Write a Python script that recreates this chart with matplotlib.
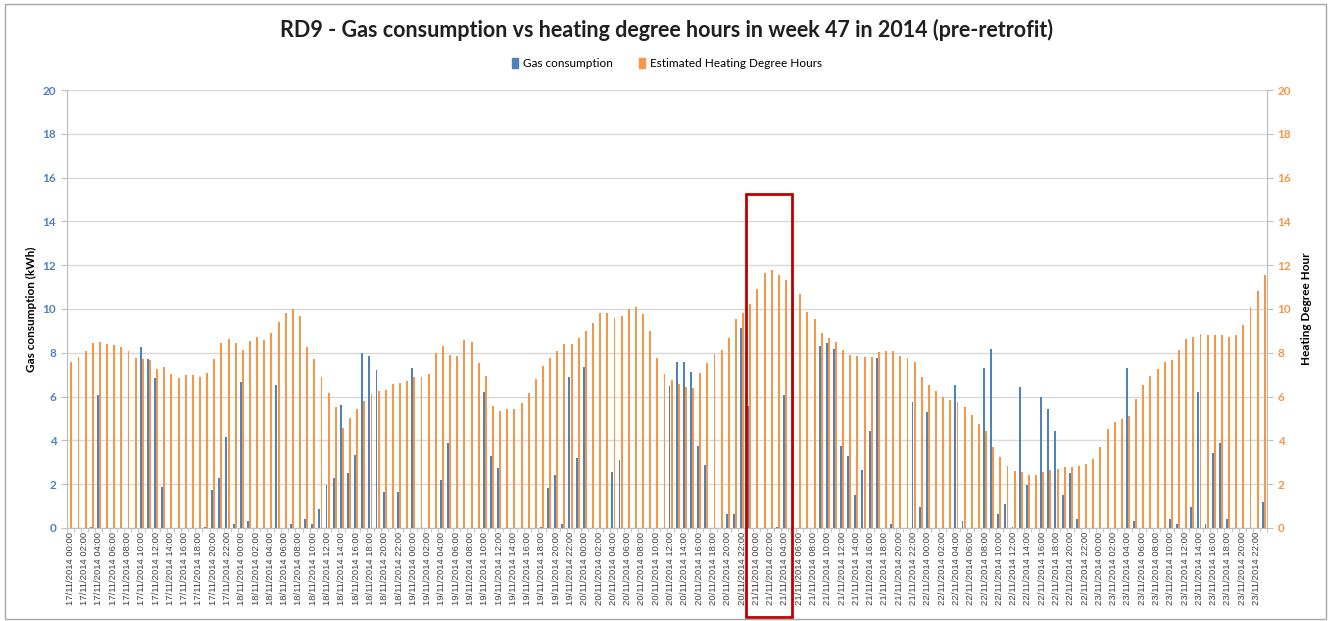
import numpy as np
import pandas as pd
import matplotlib
matplotlib.use("Agg")
import matplotlib.pyplot as plt
from matplotlib.patches import Rectangle, Patch

plt.rcParams['font.family'] = ['Lato', 'DejaVu Sans']

# hourly values, one row per day (17/11 .. 23/11/2014)
gas_kwh = [
    0, 0, 0, 0.06, 6.06, 0, 0, 0, 0, 0, 8.27, 7.71, 6.84, 1.85, 0, 0, 0, 0, 0, 0.06, 1.74, 2.29, 4.17, 0.18,
    6.64, 0.31, 0, 0, 0, 6.52, 0, 0.18, 0, 0.41, 0.18, 0.84, 1.97, 2.29, 5.63, 2.52, 3.31, 8.0, 7.85, 7.19, 1.63, 0, 1.63, 0,
    7.30, 0, 0, 0, 2.20, 3.86, 0, 0, 0, 0, 6.20, 3.30, 2.75, 0, 0, 0, 0, 0, 0.06, 1.83, 2.41, 0.18, 6.87, 3.18,
    7.36, 0, 0, 0, 2.53, 3.08, 0, 0, 0, 0, 0, 0, 6.47, 7.57, 7.57, 7.13, 3.76, 2.87, 0, 0, 0.64, 0.64, 9.13, 5.56,
    0, 0, 0, 0.06, 6.08, 0, 0, 0, 0, 8.31, 8.43, 8.18, 3.76, 3.30, 1.51, 2.63, 4.41, 7.76, 0, 0.18, 0, 0, 5.76, 0.95,
    5.30, 0, 0, 0, 6.52, 0.31, 0, 0, 7.30, 8.18, 0.64, 1.07, 0.06, 6.43, 1.95, 0, 5.98, 5.42, 4.41, 1.51, 2.52, 0.41, 0, 0,
    0, 0, 0, 0, 7.30, 0.31, 0, 0, 0, 0, 0.41, 0.18, 0, 0.95, 6.20, 0.18, 3.40, 3.86, 0.41, 0, 0, 0, 0, 1.19,
]
hdh = [
    7.59, 7.79, 8.06, 8.43, 8.47, 8.41, 8.37, 8.24, 8.06, 7.77, 7.71, 7.68, 7.27, 7.33, 7.05, 6.84, 6.96, 6.98, 6.90, 7.08, 7.73, 8.43, 8.63, 8.43,
    8.11, 8.52, 8.70, 8.56, 8.92, 9.40, 9.82, 10.0, 9.68, 8.24, 7.73, 6.87, 6.18, 5.51, 4.55, 5.02, 5.42, 5.80, 6.12, 6.27, 6.32, 6.55, 6.60, 6.73,
    6.87, 6.87, 7.05, 8.0, 8.29, 7.88, 7.85, 8.60, 8.47, 7.54, 6.93, 5.57, 5.36, 5.45, 5.45, 5.71, 6.15, 6.81, 7.39, 7.76, 8.08, 8.41, 8.41, 8.67,
    8.98, 9.34, 9.83, 9.83, 9.60, 9.69, 10.0, 10.09, 9.76, 8.98, 7.74, 7.05, 6.76, 6.58, 6.43, 6.37, 7.08, 7.54, 7.94, 8.11, 8.66, 9.53, 9.83, 10.21,
    10.90, 11.66, 11.77, 11.53, 11.30, 10.95, 10.67, 9.86, 9.53, 8.92, 8.69, 8.47, 8.11, 7.88, 7.83, 7.79, 7.82, 8.02, 8.06, 8.06, 7.83, 7.76, 7.56, 6.87,
    6.53, 6.26, 5.98, 5.85, 5.74, 5.51, 5.15, 4.76, 4.41, 3.71, 3.25, 2.84, 2.60, 2.53, 2.43, 2.40, 2.56, 2.66, 2.70, 2.78, 2.76, 2.81, 2.92, 3.15,
    3.71, 4.52, 4.84, 4.96, 5.11, 5.88, 6.53, 6.92, 7.24, 7.57, 7.69, 8.11, 8.64, 8.73, 8.87, 8.82, 8.82, 8.79, 8.70, 8.79, 9.25, 10.08, 10.81, 11.53,
]
hours = pd.date_range("2014-11-17 00:00", periods=len(hdh), freq="h")
tick_labels = [t.strftime("%d/%m/%Y %H:%M") for t in hours[::2]]

# highlighted period (21/11 00:00 - 04:00), in slot units
box_x0, box_x1 = 94.5, 101.05
box_top = 15.25

BLUE = "#4F81BD"
ORANGE = "#F79646"
GRID = "#D9D9D9"

fig = plt.figure(figsize=(13.34, 6.21), dpi=100)
ax = fig.add_axes([0.050, 0.150, 0.900, 0.705])
ax2 = ax.twinx()

x = np.arange(len(hdh))
w = 0.27
ax.bar(x - 0.15, gas_kwh, width=w, color=BLUE, zorder=3)
ax2.bar(x + 0.15, hdh, width=w, color=ORANGE, zorder=3)

for a, col in ((ax, BLUE), (ax2, ORANGE)):
    a.set_ylim(0, 20)
    a.set_yticks(range(0, 21, 2))
    a.tick_params(axis='y', labelcolor=col, labelsize=8.5, length=4, width=0.8, color="#BFBFBF")
    for s in a.spines.values():
        s.set_color("#BFBFBF")
    a.spines['top'].set_visible(False)
    for lab in a.get_yticklabels():
        lab.set_fontweight('bold')

ax.set_xlim(-0.5, len(hdh) - 0.5)
ax.grid(axis='y', color=GRID, linewidth=1.0, zorder=0)
ax.set_axisbelow(True)
ax.set_xticks(x[::2])
ax.set_xticklabels(tick_labels, rotation=90, fontsize=6.8, color="#404040",
                   family=['Liberation Sans', 'DejaVu Sans'])
ax.set_xticks(np.arange(-0.5, len(hdh), 1), minor=True)
ax.tick_params(axis='x', which='major', length=0, pad=3)
ax.tick_params(axis='x', which='minor', length=3, color="#BFBFBF")

ax.set_ylabel("Gas consumption (kWh)", fontsize=8.5, fontweight='bold', labelpad=4)
ax2.set_ylabel("Heating Degree Hour", fontsize=8.5, fontweight='bold', labelpad=7)

fig.text(0.5, 0.952, "RD9 - Gas consumption vs heating degree hours in week 47 in 2014 (pre-retrofit)",
         ha='center', va='center', fontsize=15.5, fontweight='bold', color="#1F1F1F")

handles = [Patch(color=BLUE, label="Gas consumption"),
           Patch(color=ORANGE, label="Estimated Heating Degree Hours")]
fig.legend(handles=handles, loc='center', bbox_to_anchor=(0.5, 0.897), ncol=2, frameon=False,
           fontsize=8.5, handlelength=0.5, handleheight=0.9, handletextpad=0.4, columnspacing=2.2)

ax2.add_patch(Rectangle((box_x0, -4.05), box_x1 - box_x0, box_top + 4.05, fill=False,
                        edgecolor="#C00000", linewidth=2.0, clip_on=False, zorder=5))

fig.patches.append(Rectangle((0.004, 0.003), 0.99, 0.99, transform=fig.transFigure,
                             fill=False, edgecolor="#A6A6A6", linewidth=1.0))

fig.savefig("out.png", dpi=100)
